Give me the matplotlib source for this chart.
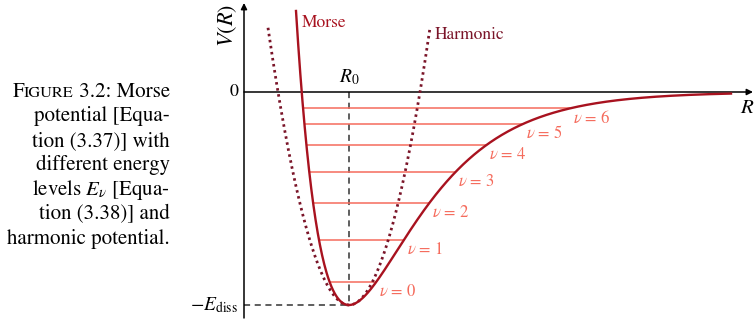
import numpy as np
import matplotlib
matplotlib.use("Agg")
import matplotlib.pyplot as plt

plt.rcParams["font.family"] = ["STIXGeneral", "DejaVu Serif"]
plt.rcParams["mathtext.fontset"] = "stix"

# Morse potential V(R) = D (1 - exp(-a (R - R0)))^2 - D, V in units of D
well_depth = 1.0
r_eq = 1.05
morse_a = 1.466
morse_range = (0.52, 4.87)

# Harmonic approximation: reaches V = 0 at R0 +/- half width
harmonic_half_width = 0.71
harmonic_range = (0.24, 1.86)

# Vibrational energy levels E_v (units of D), v = 0..6
level_energies = [-0.892, -0.695, -0.523, -0.377, -0.250, -0.150, -0.077]
level_quanta = [0, 1, 2, 3, 4, 5, 6]

caption_lines = [
    " 3.2: Morse",
    "potential [Equa-",
    "tion (3.37)] with",
    "different energy",
    r"levels $E_\nu$ [Equa-",
    "tion (3.38)] and",
    "harmonic potential.",
]

MORSE_RED = "#a8121f"
HARM_RED = "#7a1428"
LEVEL_RED = "#f56b5c"
DASH_GRAY = "#333333"

W, H = 755, 320
fig = plt.figure(figsize=(W / 100, H / 100), dpi=100)
ax = fig.add_axes([244 / W, 0, (W - 244) / W, 1])
ax.set_xlim(0, 5.11)
ax.set_ylim(-1.0704, 0.4319)
ax.axis("off")


def morse(r):
    return well_depth * (1 - np.exp(-morse_a * (r - r_eq))) ** 2 - well_depth


def harmonic(r):
    return well_depth * ((r - r_eq) / harmonic_half_width) ** 2 - well_depth


# axes with arrowheads
arrow = dict(arrowstyle="-|>", lw=1.1, color="black", mutation_scale=9,
             shrinkA=0, shrinkB=0)
ax.annotate("", xy=(0, 0.418), xytext=(0, -1.061), arrowprops=arrow,
            annotation_clip=False)
ax.annotate("", xy=(5.09, 0), xytext=(0, 0), arrowprops=arrow,
            annotation_clip=False)

# equilibrium distance and dissociation energy guides
ax.plot([0, r_eq], [-well_depth, -well_depth], color=DASH_GRAY, lw=1.1,
        dashes=(4, 3), clip_on=False)
ax.plot([r_eq, r_eq], [0, -well_depth], color=DASH_GRAY, lw=1.1,
        dashes=(4, 3), clip_on=False)

# energy levels between the two turning points of the Morse curve
for e, v in zip(level_energies, level_quanta):
    s = np.sqrt(1 + e / well_depth)
    r_left = r_eq - np.log(1 + s) / morse_a
    r_right = r_eq - np.log(1 - s) / morse_a
    ax.plot([r_left, r_right], [e, e], color=LEVEL_RED, lw=1.1,
            solid_capstyle="butt", zorder=2)
    ax.annotate(rf"$\nu$ = {v}", xy=(r_right, e), xytext=(3, -10),
                textcoords="offset pixels", ha="left", va="center",
                fontsize=12, color=LEVEL_RED)

# harmonic potential (dotted)
rh = np.linspace(*harmonic_range, 400)
ax.plot(rh, harmonic(rh), color=HARM_RED, lw=2.0,
        linestyle=(0, (0.9, 1.3)), zorder=3)

# Morse potential
rm = np.linspace(*morse_range, 800)
ax.plot(rm, morse(rm), color=MORSE_RED, lw=1.7, zorder=4)

# curve labels
ax.text(0.58, 0.324, "Morse", color=MORSE_RED, fontsize=12.5,
        ha="left", va="center")
ax.text(1.91, 0.268, "Harmonic", color=HARM_RED, fontsize=12.5,
        ha="left", va="center")

# axis labels and ticks
ax.text(r_eq, 0.072, r"$R_0$", fontsize=14, ha="center", va="center")
ax.text(-0.16, 0.31, r"$V(R)$", fontsize=16, ha="center", va="center",
        rotation=90)
ax.text(-0.06, 0, "0", fontsize=13, ha="right", va="center")
ax.text(-0.06, -well_depth, r"$-E_{\mathrm{diss}}$", fontsize=14,
        ha="right", va="center")
ax.text(5.03, -0.075, r"$R$", fontsize=15, ha="center", va="center")

# caption on the left, right-aligned
cap_size = 15
right_px = 170
baseline0 = 96.7
step = 24.55
renderer = fig.canvas.get_renderer()
for i, line in enumerate(caption_lines):
    y = 1 - (baseline0 + i * step) / H
    t = fig.text(right_px / W, y, line, fontsize=cap_size, ha="right",
                 va="baseline")
    if i == 0:
        x0 = t.get_window_extent(renderer).x0
        t2 = fig.text(x0 / W, y, "IGURE", fontsize=cap_size * 0.78,
                      ha="right", va="baseline")
        x1 = t2.get_window_extent(renderer).x0
        fig.text(x1 / W, y, "F", fontsize=cap_size, ha="right",
                 va="baseline")

fig.savefig("out.png", dpi=100)
